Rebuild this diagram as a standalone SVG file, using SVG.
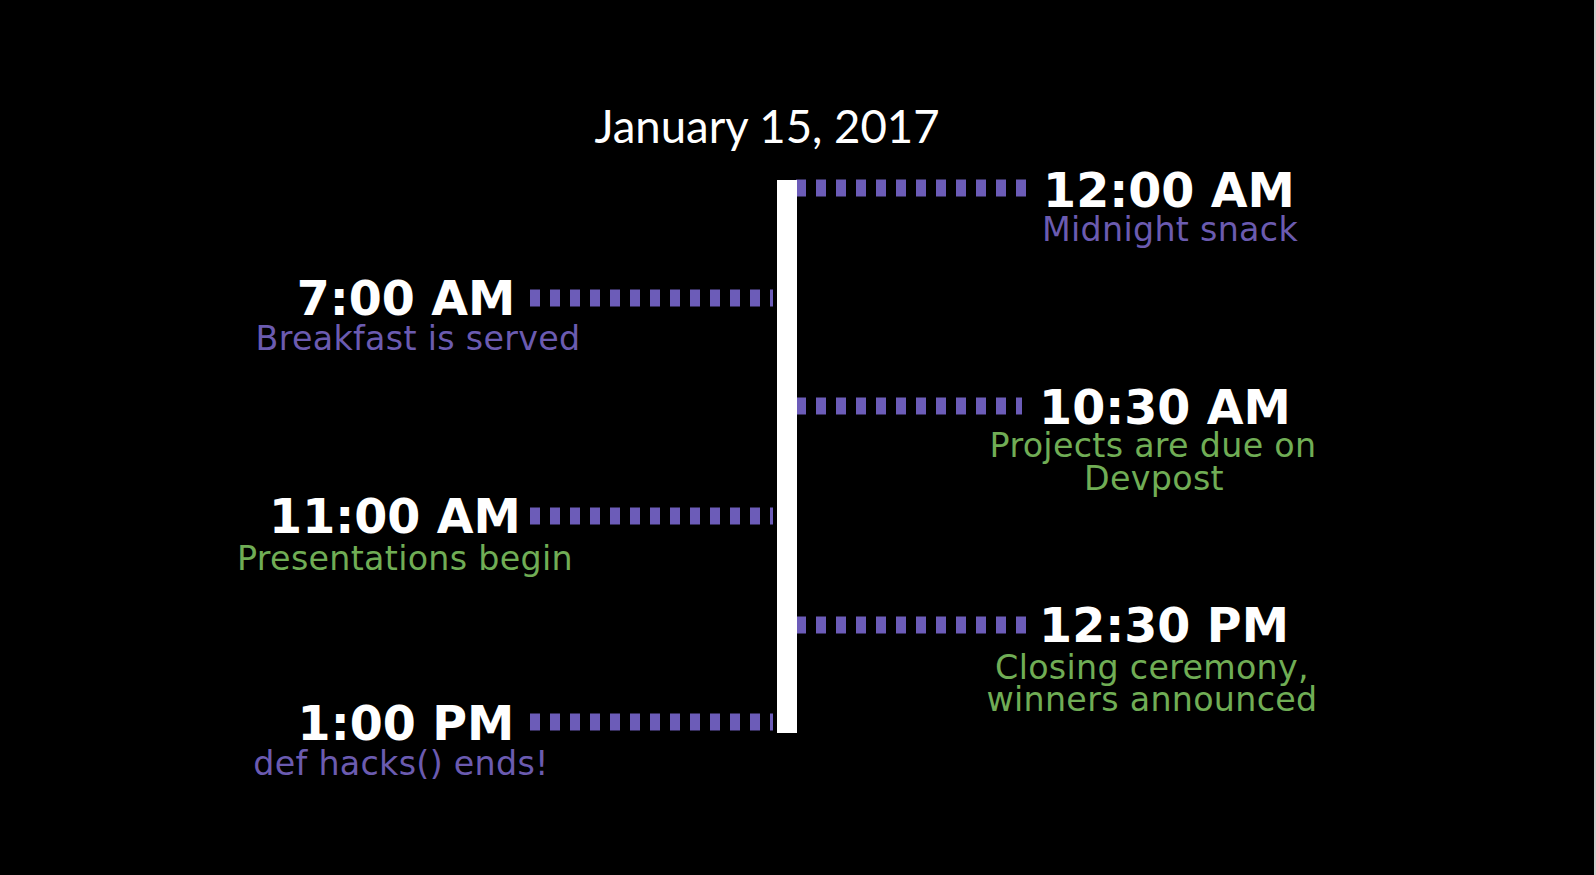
<svg xmlns="http://www.w3.org/2000/svg" width="1596" height="875" viewBox="0 0 1596 875">
<style>
.time{font-family:"DejaVu Sans","Liberation Sans",sans-serif;font-weight:bold;font-size:47.5px;fill:#ffffff;text-anchor:middle}
.sub{font-family:"DejaVu Sans","Liberation Sans",sans-serif;font-size:33.3px;letter-spacing:0.3px;text-anchor:middle}
.purple{fill:#6b5bb0}
.green{fill:#70ad55}
.dash{stroke:#6c5cb8;stroke-width:17;stroke-dasharray:10 10;fill:none}
.title{font-family:Lato,"Liberation Sans",sans-serif;font-size:45.5px;fill:#ffffff;text-anchor:middle}
</style>
<rect x="0" y="0" width="1596" height="875" fill="#000000"/>
<rect x="1594" y="0" width="2" height="875" fill="#cfcfcf"/>
<g id="title"><text class="title" x="767" y="143">January 15, 2017</text></g>
<g id="connectors">
<line class="dash" x1="796" y1="188" x2="1027" y2="188"/>
<line class="dash" x1="530" y1="298" x2="773" y2="298"/>
<line class="dash" x1="796" y1="406" x2="1022" y2="406"/>
<line class="dash" x1="530" y1="516" x2="773" y2="516"/>
<line class="dash" x1="796" y1="625" x2="1027" y2="625"/>
<line class="dash" x1="530" y1="722" x2="773" y2="722"/>
</g>
<g id="timeline"><rect x="777" y="180" width="20" height="553" fill="#ffffff"/></g>
<g id="n1200am">
<text class="time" x="1169" y="207">12:00 AM</text>
<text class="sub purple" x="1170" y="241">Midnight snack</text>
</g>
<g id="n700am">
<text class="time" x="406" y="315">7:00 AM</text>
<text class="sub purple" x="418" y="350">Breakfast is served</text>
</g>
<g id="n1030am">
<text class="time" x="1165" y="424">10:30 AM</text>
<text class="sub green" x="1153" y="457">Projects are due on</text>
<text class="sub green" x="1154" y="490">Devpost</text>
</g>
<g id="n1100am">
<text class="time" x="395" y="533">11:00 AM</text>
<text class="sub green" x="405" y="570">Presentations begin</text>
</g>
<g id="n1230pm">
<text class="time" x="1164" y="642">12:30 PM</text>
<text class="sub green" x="1152" y="679">Closing ceremony,</text>
<text class="sub green" x="1152" y="711">winners announced</text>
</g>
<g id="n100pm">
<text class="time" x="406" y="740">1:00 PM</text>
<text class="sub purple" x="401" y="775">def hacks() ends!</text>
</g>
</svg>
